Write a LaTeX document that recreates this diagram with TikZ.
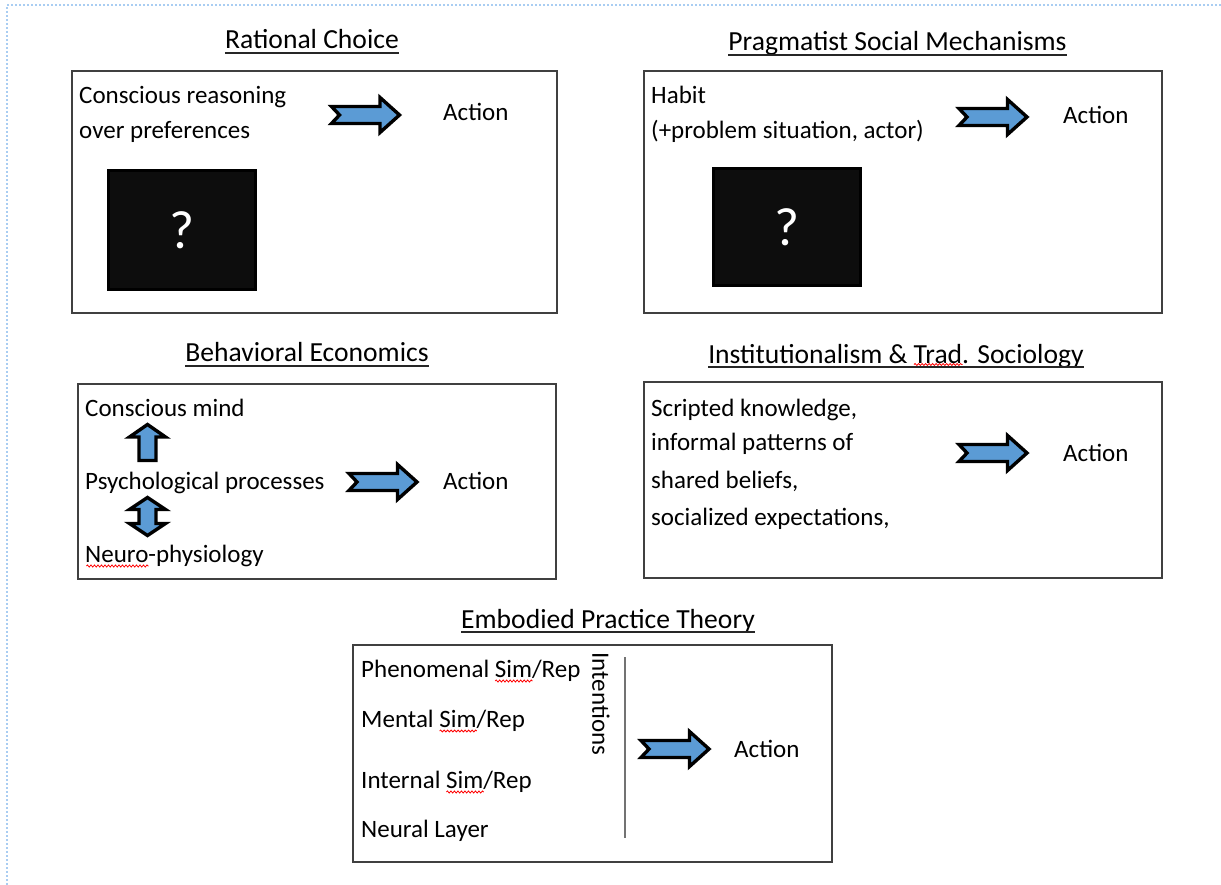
\documentclass[tikz,border=0pt]{standalone}
\usepackage{fontspec}
\setmainfont{Carlito}
\usetikzlibrary{calc,decorations.pathmorphing}
\definecolor{arrowblue}{HTML}{5B9BD5}
\definecolor{dotblue}{HTML}{A9CDF2}
\definecolor{panelgray}{HTML}{404040}
\tikzset{
  panel/.style={draw=panelgray, line width=1.6pt, anchor=north west, inner sep=0},
  body/.style={font=\fontsize{25}{30}\selectfont, inner sep=0, anchor=base west},
  head/.style={font=\fontsize{27.6}{33}\selectfont, inner sep=0, anchor=base},
  headw/.style={font=\fontsize{27.6}{33}\selectfont, inner sep=0, anchor=base west},
  qbox/.style={draw=black, fill=black!95, line width=3pt, anchor=north west, inner sep=0},
  qmark/.style={text=white, font=\fontsize{54}{62}\selectfont, inner sep=0},
  blockarrow/.style={draw=black, fill=arrowblue, line width=3.4pt, line join=miter},
  rarrow/.pic={\draw[blockarrow] (-34,-8.5) -- (14.5,-8.5) -- (14.5,-17.5) -- (34,0) -- (14.5,17.5) -- (14.5,8.5) -- (-34,8.5) -- (-26,0) -- cycle;},
  uarrow/.pic={\draw[blockarrow] (-8.5,18) -- (-8.5,-5.5) -- (-18,-5.5) -- (0,-18) -- (18,-5.5) -- (8.5,-5.5) -- (8.5,18) -- cycle;},
  udarrow/.pic={\draw[blockarrow] (0,-19) -- (18,-7) -- (8.5,-7) -- (8.5,7) -- (18,7) -- (0,19) -- (-18,7) -- (-8.5,7) -- (-8.5,-7) -- (-18,-7) -- cycle;},
  uline/.style={line width=1.3pt, black!85},
  squiggle/.style={red, line width=0.8pt, decorate, decoration={snake, amplitude=1pt, segment length=3.5pt}}
}
% #1 style, #2 base-west point of the line, #3 text before the word, #4 the word, #5 drop below base
\newcommand\squig[5]{%
  \node[#1] (sqa) at (#2) {\phantom{#3}};
  \node[#1] (sqb) at (#2) {\phantom{#3#4}};
  \draw[squiggle] ([yshift=-#5]sqa.base east) -- ([yshift=-#5]sqb.base east);}
\begin{document}
\begin{tikzpicture}[x=1pt,y=-1pt]
\useasboundingbox (0,0) rectangle (1221,885);
% page frame (dotted)
\coordinate (fc) at (7,5);
\coordinate (fr) at (1221,5);
\coordinate (fb) at (7,885);
\draw[dotblue, line width=2pt, dotted] (fr) -- (fc) -- (fb);

% headings
\node[head] (h1) at (312,49) {Rational Choice};
\node[head] (h2) at (897.5,51) {Pragmatist Social Mechanisms};
\node[head] (h3) at (307,362) {Behavioral Economics};
\node[head] (h4) at (896,363) {Institutionalism \& Trad. Sociology};
\node[head] (h5) at (608,628) {Embodied Practice Theory};
\foreach \h in {h1,h2,h3,h4,h5}
  \draw[uline] ([yshift=-4pt]\h.base west) -- ([yshift=-4pt]\h.base east);
\squig{headw}{h4.base west}{Institutionalism \& }{Trad}{1.5pt}

% panels
\node[panel, minimum width=485pt, minimum height=242pt] (p1) at (71,70) {};
\node[panel, minimum width=518pt, minimum height=242pt] (p2) at (643,70) {};
\node[panel, minimum width=478pt, minimum height=195pt] (p3) at (77,383) {};
\node[panel, minimum width=518pt, minimum height=196pt] (p4) at (643,381) {};
\node[panel, minimum width=479pt, minimum height=217pt] (p5) at (352,644) {};

% Rational choice
\node[body] (t11) at (79,104) {Conscious reasoning};
\node[body] (t12) at (79,139) {over preferences};
\pic at (365.5,115) {rarrow};
\node[body] (a1) at (443,121) {Action};
\node[qbox, minimum width=147pt, minimum height=119pt] (q1) at (107,169) {};
\node[qmark] at (q1.center) {?};

% Pragmatist
\node[body] (t21) at (651,104) {Habit};
\node[body] (t22) at (651,139) {(+problem situation, actor)};
\pic at (993,117) {rarrow};
\node[body] (a2) at (1063,124) {Action};
\node[qbox, minimum width=147pt, minimum height=117pt] (q2) at (712,167) {};
\node[qmark] at (q2.center) {?};

% Behavioral economics
\node[body] (t31) at (85,416) {Conscious mind};
\node[body] (t32) at (85,489) {Psychological processes};
\node[body] (t33) at (85,562) {Neuro-physiology};
\squig{body}{t33.base west}{}{Neuro}{4pt}
\pic at (147.5,442.5) {uarrow};
\pic at (147.5,516.5) {udarrow};
\pic at (383,482) {rarrow};
\node[body] (a3) at (443,489) {Action};

% Institutionalism
\node[body] (t41) at (651,416) {Scripted knowledge,};
\node[body] (t42) at (651,450) {informal patterns of};
\node[body] (t43) at (651,488) {shared beliefs,};
\node[body] (t44) at (651,525) {socialized expectations,};
\pic at (993,453) {rarrow};
\node[body] (a4) at (1063,461) {Action};

% Embodied practice
\node[body] (t51) at (361,677) {Phenomenal Sim/Rep};
\node[body] (t52) at (361,727) {Mental Sim/Rep};
\node[body] (t53) at (361,788) {Internal Sim/Rep};
\node[body] (t54) at (361,837) {Neural Layer};
\squig{body}{t51.base west}{Phenomenal }{Sim}{4pt}
\squig{body}{t52.base west}{Mental }{Sim}{4pt}
\squig{body}{t53.base west}{Internal }{Sim}{4pt}
\node[font=\fontsize{25}{30}\selectfont, inner sep=0, rotate=-90] (int) at (601,704) {Intentions};
\coordinate (v1) at (625,657);
\coordinate (v2) at (625,838);
\draw[black!55, line width=1.8pt] (v1) -- (v2);
\pic at (675,749) {rarrow};
\node[body] (a5) at (734,757) {Action};
\end{tikzpicture}
\end{document}
